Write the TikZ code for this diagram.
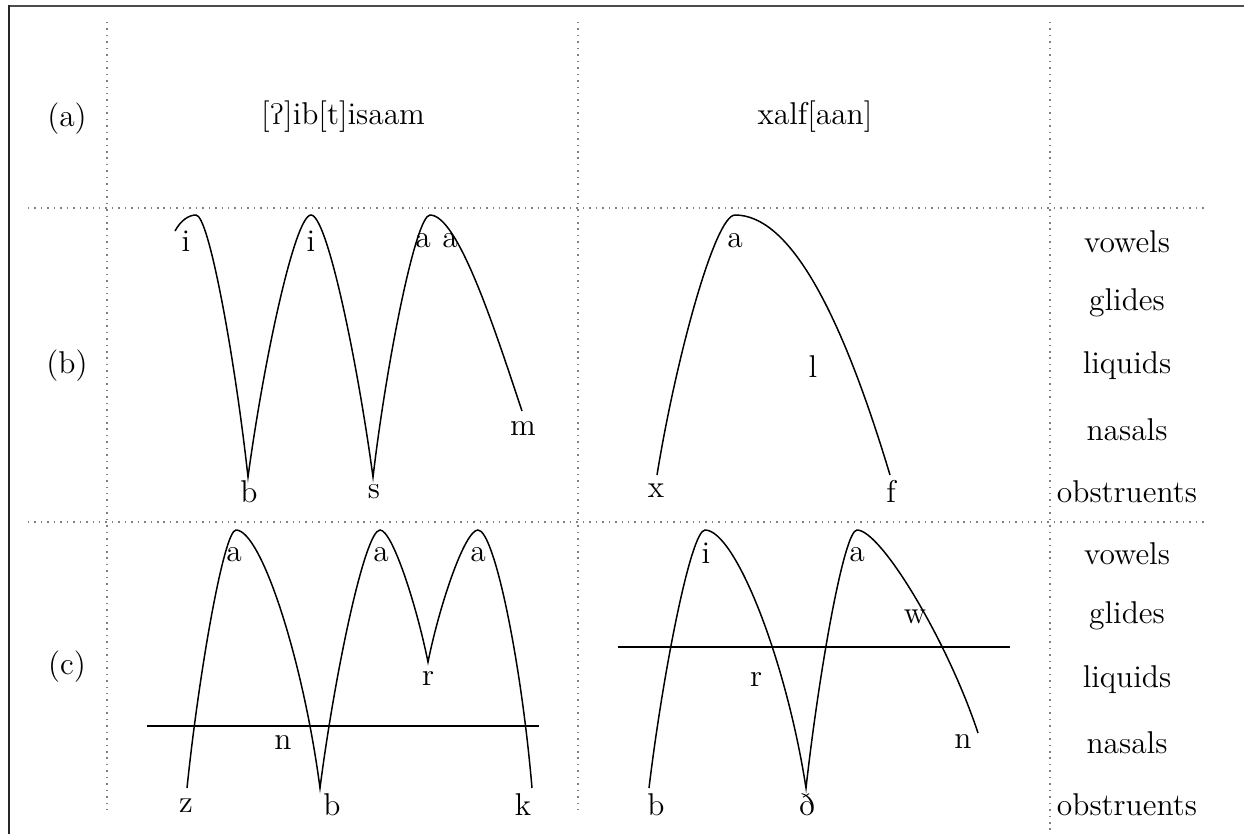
\documentclass[tikz,border=0pt]{standalone}
\usepackage{tipa}
\usetikzlibrary{calc}

\begin{document}
\begin{tikzpicture}[x=0.403pt, y=-0.403pt,
    every node/.style={font=\fontsize{12.7pt}{15pt}\selectfont},
    curve/.style={line width=0.6pt},
    grid/.style={gray, dotted, line width=0.6pt},
    cut/.style={line width=1pt},
    seg/.style={anchor=base, inner sep=0pt},
  ]

    % Constants
    \pgfmathsetmacro{\xone}{107}
    \pgfmathsetmacro{\xtwo}{578}
    \pgfmathsetmacro{\xthree}{1050}
    \pgfmathsetmacro{\xlab}{1127}

    \useasboundingbox (0,0) rectangle (1244,834);

    % Frame
    \draw [line width=1.1pt, black!70] (8,6) -- (1244,6);
    \draw [line width=1pt, black!85] (9,5) -- (9,834);

    % Grid
    \draw [grid] (\xone,22) -- (\xone,810);
    \draw [grid] (\xtwo,22) -- (\xtwo,810);
    \draw [grid] (\xthree,22) -- (\xthree,834);
    \draw [grid] (28,208) -- (1205,208);
    \draw [grid] (28,522) -- (1205,522);

    % Headings
    \node [seg] (ha) at (67,126) {(a)};
    \node [seg] (hb) at (67,373) {(b)};
    \node [seg] (hc) at (67,674) {(c)};
    \node [seg] (word1) at (343,124) {[\textglotstop]ib[t]isaam};
    \node [seg] (word2) at (815,124) {xalf[aan]};

    % Sonority scale
    \foreach \lab/\yy [count=\i] in {vowels/252, glides/310, liquids/373, nasals/440, obstruents/502}
        \node [seg] (sb\i) at (\xlab,\yy) {\lab};
    \foreach \lab/\yy [count=\i] in {vowels/564, glides/623, liquids/687, nasals/753, obstruents/815}
        \node [seg] (sc\i) at (\xlab,\yy) {\lab};

    % ---- (b) left ----
    \coordinate (b0) at (175,231);
    \coordinate (b1) at (196,215);
    \coordinate (b2) at (248,477);
    \coordinate (b3) at (311,215);
    \coordinate (b4) at (373,477);
    \coordinate (b5) at (430,215);
    \coordinate (b6) at (522,411);
    \draw [curve] (b0) .. controls (181,220) and (189,215) .. (b1)
        .. controls (209,215) and (235,359) .. (b2)
        .. controls (264,359) and (295,215) .. (b3)
        .. controls (327,215) and (357,359) .. (b4)
        .. controls (387,359) and (416,215) .. (b5)
        .. controls (458,215) and (495,330) .. (b6);

    \node [seg] (bi1) at (186,251) {i};
    \node [seg] (bb) at (249,502) {b};
    \node [seg] (bi2) at (311,251) {i};
    \node [seg] (bs) at (374,498) {s};
    \node [seg] (ba1) at (423,247) {a};
    \node [seg] (ba2) at (450,247) {a};
    \node [seg] (bm) at (523,435) {m};

    % ---- (b) right ----
    \coordinate (x0) at (657,475);
    \coordinate (x1) at (735,215);
    \coordinate (x2) at (890,475);
    \draw [curve] (x0) .. controls (676,358) and (715,215) .. (x1)
        .. controls (787,215) and (838,302) .. (x2);

    \node [seg] (xa) at (735,247) {a};
    \node [seg] (xl) at (813,377) {l};
    \node [seg] (xx) at (656,497) {x};
    \node [seg] (xf) at (891,502) {f};

    % ---- (c) left ----
    \coordinate (c0) at (187,788);
    \coordinate (c1) at (236,530);
    \coordinate (c2) at (320,788);
    \coordinate (c3) at (380,530);
    \coordinate (c4) at (428,662);
    \coordinate (c5) at (478,530);
    \coordinate (c6) at (532,788);
    \draw [curve] (c0) .. controls (199,672) and (224,530) .. (c1)
        .. controls (261,530) and (303,659) .. (c2)
        .. controls (335,672) and (365,530) .. (c3)
        .. controls (392,530) and (416,603) .. (c4)
        .. controls (440,603) and (465,530) .. (c5)
        .. controls (494,530) and (521,659) .. (c6);
    \coordinate (cl1) at (147,726);
    \coordinate (cl2) at (539,726);
    \draw [cut] (cl1) -- (cl2);

    \node [seg] (ca1) at (234,561) {a};
    \node [seg] (ca2) at (381,561) {a};
    \node [seg] (ca3) at (478,561) {a};
    \node [seg] (cr) at (428,685) {r};
    \node [seg] (cn) at (283,749) {n};
    \node [seg] (cz) at (186,812) {z};
    \node [seg] (cb) at (332,815) {b};
    \node [seg] (ck) at (523,815) {k};

    % ---- (c) right ----
    \coordinate (d0) at (649,788);
    \coordinate (d1) at (705,530);
    \coordinate (d2) at (806,788);
    \coordinate (d3) at (857,530);
    \coordinate (d4) at (978,733);
    \draw [curve] (d0) .. controls (663,672) and (691,530) .. (d1)
        .. controls (735,530) and (786,659) .. (d2)
        .. controls (819,672) and (844,530) .. (d3)
        .. controls (881,530) and (948,642) .. (d4);
    \coordinate (dl1) at (618,647);
    \coordinate (dl2) at (1010,647);
    \draw [cut] (dl1) -- (dl2);

    \node [seg] (di) at (706,563) {i};
    \node [seg] (da) at (857,561) {a};
    \node [seg] (dw) at (915,623) {w};
    \node [seg] (dr) at (756,686) {r};
    \node [seg] (dn) at (963,748) {n};
    \node [seg] (db) at (656,815) {b};
    \node [seg] (dd) at (807,815) {ð};

\end{tikzpicture}
\end{document}
